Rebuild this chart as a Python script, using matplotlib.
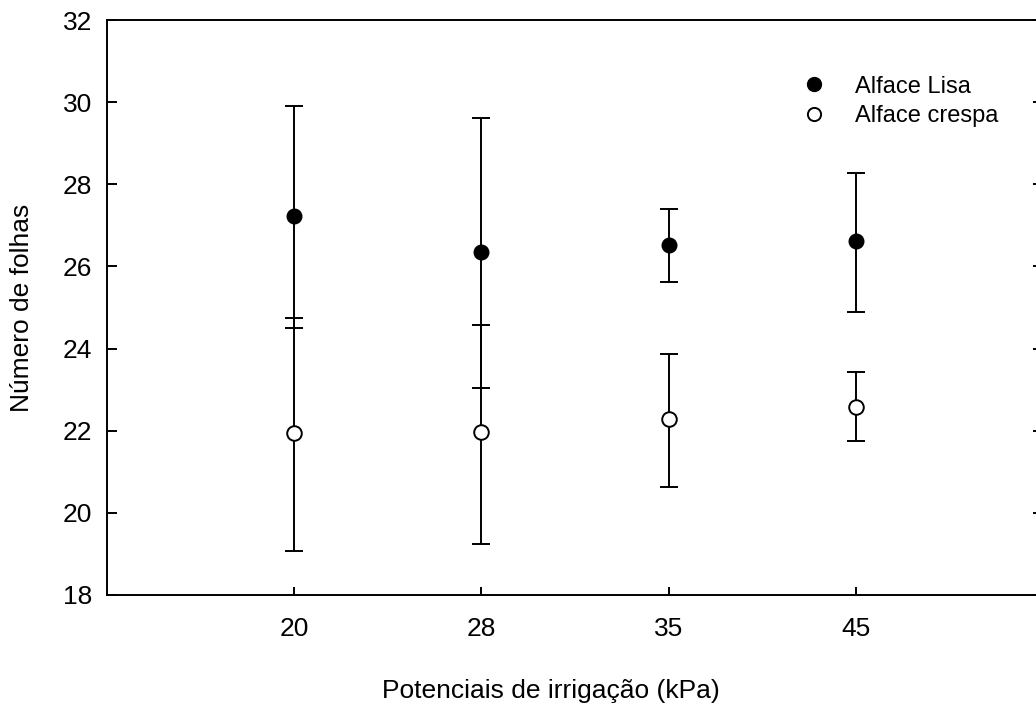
import numpy as np
import matplotlib
matplotlib.use("Agg")
import matplotlib.pyplot as plt
from matplotlib.lines import Line2D

plt.rcParams['font.family'] = ['Liberation Sans', 'DejaVu Sans']

# irrigation potentials (kPa) shown as categories
potenciais = ["20", "28", "35", "45"]

# Alface Lisa: mean, upper and lower end of the error bar
lisa_media = [27.23, 26.35, 26.53, 26.62]
lisa_sup = [29.91, 29.62, 27.39, 28.28]
lisa_inf = [24.51, 23.05, 25.62, 24.89]

# Alface crespa
crespa_media = [21.95, 21.96, 22.28, 22.57]
crespa_sup = [24.74, 24.57, 23.88, 23.43]
crespa_inf = [19.07, 19.25, 20.64, 21.75]

x = np.arange(1, len(potenciais) + 1)

fig = plt.figure(figsize=(10.36, 7.08), dpi=100)
ax = fig.add_axes([107/1036, 113/708, 936/1036, 575/708])

def err(media, inf, sup):
    media = np.array(media)
    return [media - np.array(inf), np.array(sup) - media]

ax.errorbar(x, lisa_media, yerr=err(lisa_media, lisa_inf, lisa_sup),
            fmt='o', color='black', ms=10.5, mfc='black', mec='black',
            elinewidth=1.4, capsize=6.4, capthick=1.4, zorder=3)
ax.errorbar(x, crespa_media, yerr=err(crespa_media, crespa_inf, crespa_sup),
            fmt='o', color='black', ms=10.5, mfc='white', mec='black', mew=1.4,
            elinewidth=1.4, capsize=6.4, capthick=1.4, zorder=3)

ax.set_xlim(0, 5)
ax.set_ylim(18, 32)
ax.set_xticks(x)
ax.set_xticklabels(potenciais)
ax.set_yticks(np.arange(18, 33, 2))

for s in ax.spines.values():
    s.set_linewidth(1.4)

ax.tick_params(axis='y', direction='in', length=7, width=1.4, pad=10.5,
               labelsize=19, right=True)
ax.tick_params(axis='x', direction='in', length=5.5, width=1.4, pad=16,
               labelsize=19)

ax.set_xlabel("Potenciais de irrigação (kPa)", fontsize=19)
ax.xaxis.set_label_coords(0.474, -0.146, transform=ax.transAxes)
ax.set_ylabel("Número de folhas", fontsize=19)
ax.yaxis.set_label_coords(-0.078, 0.5, transform=ax.transAxes)

handles = [
    Line2D([], [], ls='none', marker='o', ms=10, mfc='black', mec='black'),
    Line2D([], [], ls='none', marker='o', ms=9.5, mfc='white', mec='black', mew=1.4),
]
ax.legend(handles, ['Alface Lisa', 'Alface crespa'], loc='upper left',
          bbox_to_anchor=(0.72, 0.94), frameon=False, fontsize=17,
          handletextpad=1.25, labelspacing=0.3, handlelength=1.0)

fig.savefig("out.png", dpi=100)
